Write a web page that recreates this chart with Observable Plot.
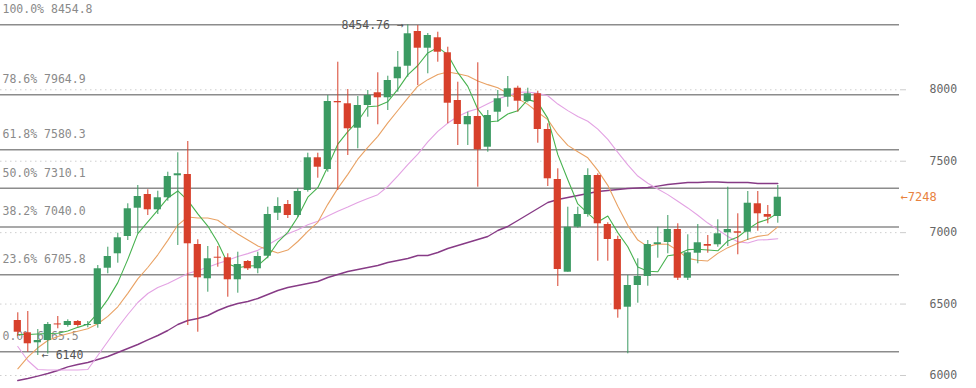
<!DOCTYPE html>
<html><head><meta charset="utf-8">
<script src="https://cdn.jsdelivr.net/npm/d3@7"></script>
<script src="https://cdn.jsdelivr.net/npm/@observablehq/plot@0.6"></script>
<style>html,body{margin:0;padding:0;background:#fff;overflow:hidden}</style>
</head><body><div id="chart"></div>
<script>
// OHLC per candle
const open = [6385,6299,6229,6245,6361,6350,6378,6350,6357,6751,6852,6973,7171,7267,7160,7244,7398,7407,6917,6677,6828,6824,6670,6798,6747,6835,7136,7197,7120,7295,7524,7442,7918,7902,7731,7890,7979,7944,8077,8165,8408,8291,8364,8259,7925,7755,7813,7598,7843,7948,8011,7918,7972,7722,7372,6723,7038,7127,7400,7057,6952,6478,6630,6693,6917,6931,7022,6681,6856,6917,6915,6999,7006,7003,7202,7127,7113];
const high = [6439,6448,6322,6371,6413,6390,6385,6378,6770,6898,6996,7202,7330,7300,7290,7423,7559,7638,6950,6903,6903,6852,6863,6805,6863,7178,7244,7225,7307,7556,7556,7960,8193,8002,7953,7995,8119,8095,8268,8454.76,8450,8394,8403,8298,8053,7843,8189,7855,7995,8093,8025,8011,7990,7762,7447,7178,7178,7447,7412,7069,6975,6700,6817,6945,7038,7120,7062,6985,7057,6980,7090,7318,7132,7288,7288,7190,7330];
const low = [6273,6163,6140,6150,6327,6338,6338,6334,6331,6712,6786,6945,6992,7120,7127,7220,6910,6350,6303,6583,6758,6548,6576,6735,6712,6817,7085,7099,7106,7283,7381,7423,7295,7540,7587,7808,7755,7855,7983,8088,8030,8112,8193,7762,7610,7610,7318,7563,7773,7878,7843,7909,7626,7323,6623,6723,7031,7108,6800,6800,6401,6152,6506,6625,6821,6852,6665,6665,6782,6856,6898,6903,6845,6945,7010,7062,7066];
const close = [6303,6222,6245,6357,6354,6378,6350,6357,6747,6833,6964,7167,7253,7160,7244,7393,7412,6922,6684,6817,6821,6670,6777,6747,6833,7127,7183,7120,7288,7524,7458,7918,7909,7727,7890,7960,7944,8065,8158,8392,8291,8380,8263,7906,7757,7813,7580,7820,7937,8007,7920,7972,7722,7377,6742,7038,7127,7400,7062,6952,6460,6630,6693,6917,6929,7022,6681,6859,6929,6905,6992,7022,6996,7206,7132,7108,7248];

// Moving-average lines
const ma5 = [6287,6287,6290,6294,6296,6311,6337,6359,6437,6533,6650,6813,6993,7075,7158,7243,7292,7226,7131,7046,6931,6783,6754,6767,6769,6831,6933,7002,7110,7248,7315,7462,7619,7707,7780,7881,7886,7917,8003,8104,8170,8258,8297,8246,8120,8024,7864,7775,7782,7831,7853,7931,7912,7800,7546,7370,7201,7137,7074,7116,7000,6901,6760,6730,6726,6838,6848,6881,6884,6879,6873,6942,6969,7024,7070,7093,7138];
const ma10 = [6047,6128,6194,6245,6273,6292,6310,6327,6362,6414,6481,6575,6676,6756,6845,6946,7053,7110,7103,7102,7087,7037,6990,6949,6907,6881,6858,6878,6938,7009,7072,7198,7310,7408,7514,7597,7674,7768,7855,7942,8025,8071,8107,8125,8112,8097,8061,8036,8014,7975,7938,7898,7843,7791,7689,7611,7566,7524,7436,7331,7185,7051,6948,6902,6921,6919,6874,6820,6807,6802,6855,6895,6925,6954,6974,6983,7040];
const ma20 = [6203,6105,6042,6038,6038,6038,6038,6042,6140,6238,6336,6427,6511,6574,6616,6644,6679,6714,6735,6758,6784,6806,6833,6853,6876,6914,6956,6993,7021,7055,7080,7117,7150,7179,7211,7239,7266,7323,7397,7476,7549,7635,7709,7767,7813,7847,7867,7902,7935,7959,7982,7985,7975,7958,7900,7854,7813,7780,7725,7653,7562,7474,7396,7346,7305,7266,7220,7173,7122,7067,7021,6973,6937,6928,6948,6951,6957];
const ma60 = [5965,5979,5996,6014,6035,6060,6077,6091,6112,6133,6161,6189,6217,6249,6280,6315,6357,6385,6399,6420,6455,6483,6504,6518,6539,6567,6595,6616,6630,6644,6658,6686,6707,6728,6742,6756,6770,6791,6805,6819,6840,6840,6861,6889,6910,6931,6952,6973,7015,7043,7085,7127,7169,7211,7232,7246,7260,7274,7288,7295,7302,7309,7312,7316,7326,7337,7344,7351,7351,7354,7354,7351,7351,7351,7344,7344,7344];

// Fibonacci levels
const fibPct = [0, 23.6, 38.2, 50.0, 61.8, 78.6, 100.0];
const fibVal = [6165.5, 6705.8, 7040.0, 7310.1, 7580.3, 7964.9, 8454.8];

// Axis ticks
const yTicks = [6000, 6500, 7000, 7500, 8000];

// Annotations
const maxMark = [{i: 39, value: 8454.76, label: "8454.76 →"}];
const minMark = [{i: 2, value: 6140, label: "← 6140"}];
const lastPrice = [{value: 7248, label: "←7248"}];
const slots = 90; // candle slots incl. empty space at right

const GREEN = "#3b9a62", RED = "#d7402b";
const candles = open.map((o, i) => ({i, open: o, high: high[i], low: low[i], close: close[i]}));
const col = d => d.close >= d.open ? GREEN : RED;
const lineOf = (arr) => arr.map((v, i) => ({i, v}));

const chart = Plot.plot({
  width: 976, height: 388,
  marginLeft: 0, marginRight: 77, marginTop: 0, marginBottom: 0,
  x: {type: "linear", domain: [-1.73, slots - 1.83], axis: null},
  y: {domain: [5909, 8625], axis: null},
  color: {type: "identity"},
  style: {fontFamily: "'DejaVu Sans Mono', monospace", fontSize: "11.5px", background: "#fff"},
  marks: [
    Plot.ruleY(yTicks, {stroke: "#cfcfcf", strokeDasharray: "1.5,3.5"}),
    Plot.axisY(yTicks, {anchor: "right", tickSize: 6, tickPadding: 24, stroke: "#cccccc", fill: "#666", tickFormat: d => String(d), fontSize: 11.5}),
    Plot.ruleY(fibVal, {stroke: "#8c8c8c", strokeWidth: 1.5}),
    Plot.text(fibVal, {y: d => d, frameAnchor: "left", textAnchor: "start", dx: 2, dy: -15.5,
      text: (d, i) => `${fibPct[i].toFixed(1)}% ${d.toFixed(1)}`, fill: "#8a8a8a"}),
    Plot.line(lineOf(ma60), {x: "i", y: "v", stroke: "#873b86", strokeWidth: 1.4}),
    Plot.line(lineOf(ma20), {x: "i", y: "v", stroke: "#e3a2e3", strokeWidth: 1.1}),
    Plot.line(lineOf(ma10), {x: "i", y: "v", stroke: "#e9a264", strokeWidth: 1.1}),
    Plot.line(lineOf(ma5), {x: "i", y: "v", stroke: "#47b24f", strokeWidth: 1.1}),
    Plot.ruleX(candles, {x: "i", y1: "low", y2: "high", stroke: col, strokeWidth: 1}),
    Plot.rect(candles, {x1: d => d.i - 0.36, x2: d => d.i + 0.36, y1: "open", y2: "close", fill: col}),
    Plot.text(maxMark, {x: "i", y: "value", text: "label", textAnchor: "end", dx: -4, fill: "#555"}),
    Plot.text(minMark, {x: "i", y: "value", text: "label", textAnchor: "start", dx: 4, fill: "#555"}),
    Plot.text(lastPrice, {x: () => slots - 1.83, y: "value", text: "label", textAnchor: "start", dx: 1, fill: "#e8823e", fontSize: 12})
  ]
});
document.getElementById("chart").appendChild(chart);
</script>
</body></html>
